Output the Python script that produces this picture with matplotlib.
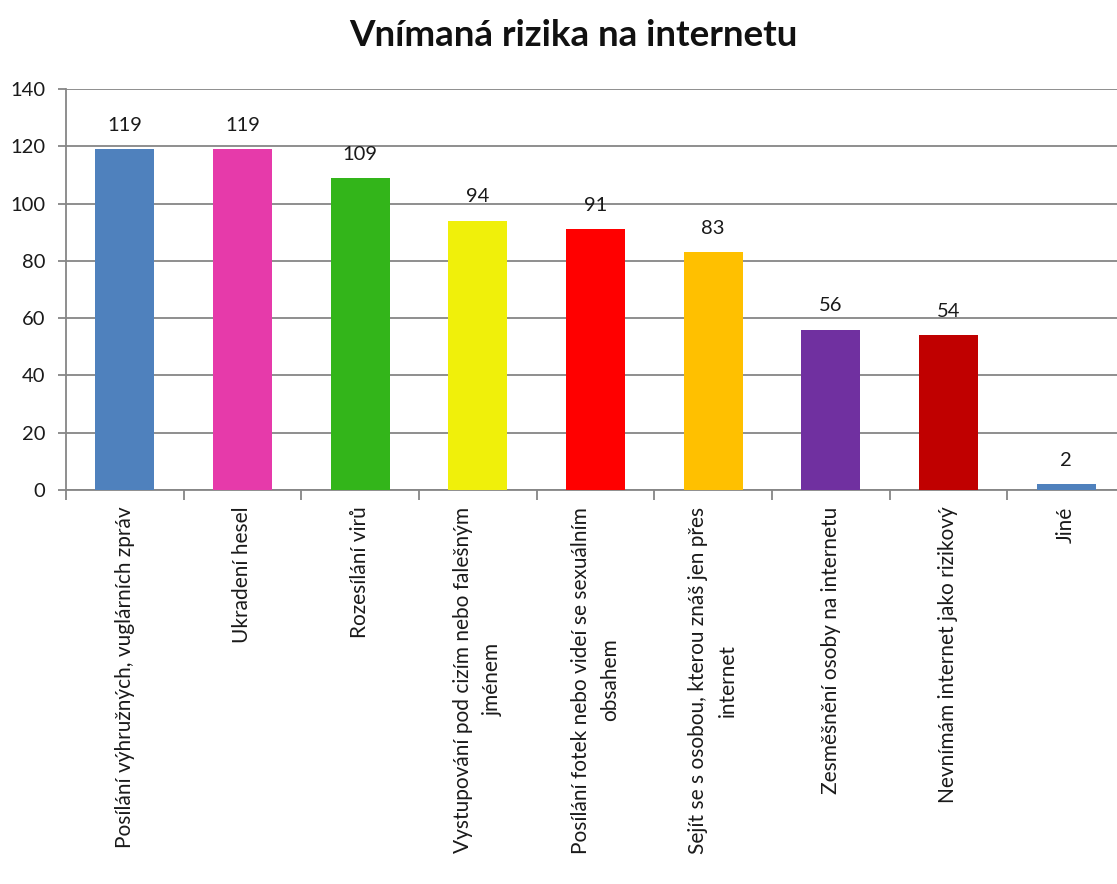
import matplotlib
matplotlib.use('Agg')
import matplotlib.pyplot as plt
import numpy as np

# chart data
categories = [
    'Posílání výhružných, vuglárních zpráv',
    'Ukradení hesel',
    'Rozesílání virů',
    'Vystupování pod cizím nebo falešným\njménem',
    'Posílání fotek nebo videí se sexuálním\nobsahem',
    'Sejít se s osobou, kterou znáš jen přes\ninternet',
    'Zesměšnění osoby na internetu',
    'Nevnímám internet jako rizikový',
    'Jiné',
]
values = [119, 119, 109, 94, 91, 83, 56, 54, 2]
bar_colors = ['#4F81BD', '#E63AAA', '#33B51A', '#F0F00A', '#FF0000',
              '#FFC000', '#7030A0', '#C00000', '#4F81BD']
y_ticks = [0, 20, 40, 60, 80, 100, 120, 140]

plt.rcParams['font.family'] = ['Lato', 'DejaVu Sans']

W, H = 1117, 884
fig = plt.figure(figsize=(W / 100, H / 100), dpi=100)
ax = fig.add_axes([66 / W, 394 / H, (1125 - 66) / W, 401 / H])

x = np.arange(len(categories))
ax.bar(x, values, width=0.5, color=bar_colors, zorder=3)

for xi, v in zip(x, values):
    ax.annotate(str(v), (xi, v), xytext=(0, 11), textcoords='offset points',
                ha='center', va='bottom', fontsize=14.5, color='#1a1a1a')

ax.set_xlim(-0.5, len(categories) - 0.5)
ax.set_ylim(0, 140)
ax.set_yticks(y_ticks)
ax.set_yticklabels([str(t) for t in y_ticks], fontsize=14.5, color='#1a1a1a')
ax.yaxis.grid(True, color='#868686', linewidth=1.3, zorder=0)

ax.set_xticks(x)
ax.set_xticklabels(categories, rotation=90, ha='center', va='top',
                   multialignment='center', linespacing=1.6,
                   fontsize=15, color='#1a1a1a')
ax.set_xticks(np.arange(len(categories) + 1) - 0.5, minor=True)
ax.tick_params(axis='x', which='major', length=0, pad=12)
ax.tick_params(axis='x', which='minor', length=7, color='#868686', width=1.3)
ax.tick_params(axis='y', length=6, color='#868686', width=1.3, pad=9)

for side in ['top', 'right']:
    ax.spines[side].set_visible(False)
for side in ['left', 'bottom']:
    ax.spines[side].set_color('#868686')
    ax.spines[side].set_linewidth(1.3)

fig.text(573 / W, 1 - 35 / H, 'Vnímaná rizika na internetu', ha='center', va='center',
         fontsize=26.5, fontweight='bold', color='#111111')

fig.savefig('out.png', dpi=100)
